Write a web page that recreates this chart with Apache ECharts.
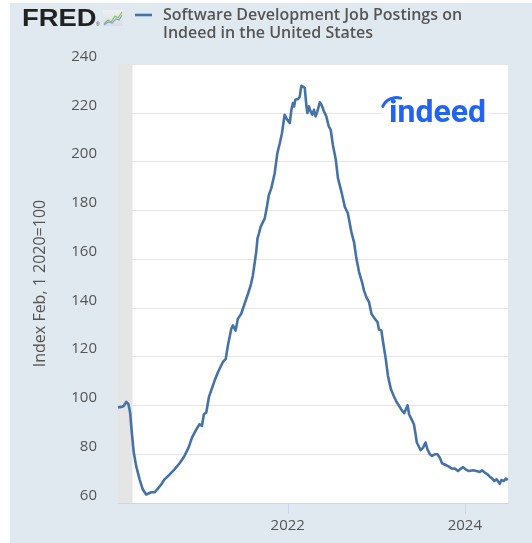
<!DOCTYPE html>
<html>
<head>
<meta charset="utf-8">
<script src="https://cdn.jsdelivr.net/npm/echarts@6/dist/echarts.min.js"></script>
<style>
html,body{margin:0;padding:0;background:#fff;}
#chart{width:532px;height:543px;}
</style>
</head>
<body>
<div id="chart"></div>
<script>
const seriesName = 'Software Development Job Postings on Indeed in the United States';
const titleLines = ['Software Development Job Postings on', 'Indeed in the United States'];
const yAxisName = 'Index Feb, 1 2020=100';
const xTickDates = ['2022-01-01', '2024-01-01'];
const yTicks = {min: 60, max: 240, step: 20};
const recessionStart = '2020-02-01';
const recessionEnd = '2020-04-01';

const dates = [
'2020-02-01','2020-02-14','2020-02-25','2020-03-06','2020-03-15','2020-03-22','2020-03-29','2020-04-06','2020-04-16','2020-04-30',
'2020-05-13','2020-05-27','2020-06-03','2020-06-17','2020-07-01','2020-07-12','2020-07-28','2020-08-11','2020-09-01','2020-09-21',
'2020-10-12','2020-11-01','2020-11-18','2020-12-02','2020-12-20','2021-01-02','2021-01-12','2021-01-20','2021-01-30','2021-02-10',
'2021-03-05','2021-03-19','2021-04-09','2021-04-20','2021-04-29','2021-05-13','2021-05-20','2021-05-31','2021-06-09','2021-06-23',
'2021-07-07','2021-07-21','2021-08-01','2021-08-10','2021-08-17','2021-08-24','2021-08-29','2021-09-04','2021-09-11','2021-09-18',
'2021-09-28','2021-10-07','2021-10-15','2021-10-25','2021-11-08','2021-11-19','2021-11-29','2021-12-08','2021-12-19','2021-12-26',
'2022-01-02','2022-01-09','2022-01-16','2022-01-22','2022-01-27','2022-02-01','2022-02-12','2022-02-19','2022-02-26','2022-03-05',
'2022-03-12','2022-03-19','2022-03-23','2022-03-29','2022-04-05','2022-04-12','2022-04-19','2022-04-26','2022-05-03','2022-05-13',
'2022-05-20','2022-05-30','2022-06-09','2022-06-19','2022-06-27','2022-07-06','2022-07-18','2022-07-27','2022-08-10','2022-08-24',
'2022-09-06','2022-09-20','2022-10-01','2022-10-11','2022-10-22','2022-11-03','2022-11-11','2022-11-21','2022-12-02','2022-12-12',
'2022-12-26','2023-01-06','2023-01-12','2023-01-22','2023-01-29','2023-02-09','2023-02-18','2023-03-02','2023-03-14','2023-03-25',
'2023-04-01','2023-04-15','2023-04-26','2023-05-03','2023-05-10','2023-05-16','2023-05-26','2023-06-05','2023-06-12','2023-06-17',
'2023-06-25','2023-07-03','2023-07-13','2023-07-23','2023-07-31','2023-08-10','2023-08-19','2023-08-30','2023-09-10','2023-09-20',
'2023-09-29','2023-10-10','2023-10-24','2023-11-07','2023-11-21','2023-12-04','2023-12-16','2023-12-25','2024-01-04','2024-01-12',
'2024-01-18','2024-01-26','2024-02-04','2024-02-18','2024-03-03','2024-03-12','2024-03-24','2024-04-04','2024-04-13','2024-04-23',
'2024-05-01','2024-05-11','2024-05-17','2024-05-24','2024-05-31','2024-06-10','2024-06-18','2024-06-26'
];
const values = [
99.2,99.4,99.8,101.5,100.5,97.1,88.9,80.7,75.1,69.7,
65.6,63.5,63.5,64.4,64.4,65.6,67.6,69.7,71.7,73.8,
76.3,79.3,82.7,86.8,90.2,92.3,91.6,96.4,97.1,103.5,
110.1,113.6,117.9,119.0,124.5,131.4,132.8,130.7,135.5,137.6,
141.7,145.8,149.2,153.3,158.1,163.0,168.4,170.5,173.2,172.6,
176.7,181.5,186.3,189.0,195.2,203.4,207.5,211.6,219.2,217.8,
217.1,215.8,221.2,224.0,222.6,225.3,225.6,226.5,231.1,230.9,
230.2,222.6,219.9,222.6,220.6,219.2,221.2,218.5,220.6,224.3,
223.3,220.6,218.5,214.4,213.0,206.8,200.7,193.1,187.7,181.5,
178.7,171.2,167.1,160.2,154.7,150.6,147.2,144.4,142.4,137.6,
135.5,134.2,131.1,130.7,125.9,119.1,112.2,106.7,103.9,101.5,
100.5,98.2,96.8,97.4,100.1,96.4,94.4,92.3,88.2,84.8,
84.1,81.7,82.7,84.8,82.0,80.0,79.3,80.0,80.0,78.6,
76.3,75.8,75.1,74.2,74.1,73.1,74.1,74.7,73.8,74.2,
73.1,73.8,73.4,73.1,72.7,73.4,72.4,71.7,70.8,70.0,
69.0,69.7,70.0,67.9,69.4,69.0,70.0,69.4
];

const lineColor = '#4572a7';
const textColor = '#555555';
const font = '"Open Sans", "Noto Sans", sans-serif';

function ts(s){ const p = s.split('-').map(Number); return +new Date(p[0], p[1]-1, p[2]); }

const chart = echarts.init(document.getElementById('chart'), null, {renderer: 'canvas'});
chart.setOption({
  backgroundColor: '#e1e9f0',
  animation: false,
  grid: {left: 118, right: 24, top: 64, bottom: 40, show: true, backgroundColor: '#ffffff', borderWidth: 0},
  xAxis: {
    type: 'value',
    min: ts('2020-02-01'),
    max: ts('2024-06-27'),
    axisLine: {lineStyle: {color: '#ccd6eb', width: 1}},
    axisTick: {show: true, length: 11, lineStyle: {color: '#ccd6eb'}, customValues: xTickDates.map(ts)},
    axisLabel: {
      customValues: xTickDates.map(ts),
      color: textColor, fontSize: 15, fontFamily: font, margin: 15,
      formatter: function(v){ return String(new Date(v).getFullYear()); }
    },
    splitLine: {show: false}
  },
  yAxis: {
    type: 'value',
    min: yTicks.min, max: yTicks.max, interval: yTicks.step,
    name: yAxisName, nameLocation: 'middle', nameGap: 70, nameRotate: 90,
    nameTextStyle: {color: textColor, fontSize: 16, fontFamily: font},
    axisLine: {show: false}, axisTick: {show: false},
    axisLabel: {color: textColor, fontSize: 15, fontFamily: font, margin: 21, verticalAlign: 'bottom'},
    splitLine: {lineStyle: {color: '#e6e6e6', width: 1}}
  },
  series: [{
    name: seriesName,
    type: 'line',
    data: dates.map((d, i) => [ts(d), values[i]]),
    showSymbol: false,
    lineStyle: {color: lineColor, width: 2.6, join: 'round'},
    itemStyle: {color: lineColor},
    z: 5,
    markArea: {
      silent: true,
      itemStyle: {color: '#e5e5e5', opacity: 1},
      data: [[{xAxis: ts(recessionStart)}, {xAxis: ts(recessionEnd)}]]
    }
  }],
  graphic: [
    {type: 'rect', shape: {x: 0, y: 0, width: 10, height: 543}, style: {fill: '#ffffff'}, silent: true},
    {type: 'rect', shape: {x: 0, y: 0, width: 532, height: 3}, style: {fill: '#ffffff'}, silent: true},
    {type: 'text', x: 22, y: 7, scaleX: 1.14, style: {text: 'FRED', font: '900 24px "Liberation Sans", Arial, sans-serif', fill: '#222222'}},
    {type: 'text', x: 96, y: 22, style: {text: '®', font: '5px "Liberation Sans", sans-serif', fill: '#444'}},
    {type: 'rect', shape: {x: 103, y: 10, width: 20, height: 16}, style: {fill: new echarts.graphic.LinearGradient(0,0,0,1,[{offset:0,color:'#eef0f2'},{offset:1,color:'#d9dde1'}])}},
    {type: 'polyline', shape: {points: [[104,24],[108,20],[111,22],[115,16],[118,18],[122,12]]}, style: {stroke: '#8cbf4f', lineWidth: 1.2, fill: null}},
    {type: 'polyline', shape: {points: [[104,25],[108,22],[112,23],[116,19],[119,20],[122,15]]}, style: {stroke: '#7ea6d3', lineWidth: 1.2, fill: null}},
    {type: 'line', shape: {x1: 135, y1: 15, x2: 152, y2: 15}, style: {stroke: lineColor, lineWidth: 2.6}},
    {type: 'text', x: 163, y: 6, style: {text: titleLines.join('\n'), font: '600 16px "Open Sans", sans-serif', lineHeight: 18.5, fill: textColor}},
    {type: 'rect', shape: {x: 383, y: 95, width: 106, height: 33}, style: {fill: '#ffffff'}, z: 10},
    {type: 'text', x: 389, y: 98, z: 11, style: {text: 'indeed', font: 'bold 32px Roboto, "Noto Sans", sans-serif', fill: '#2164f3'}},
    {type: 'arc', z: 11, shape: {cx: 396.5, cy: 112.5, r: 15, startAngle: -2.72, endAngle: -1.29, clockwise: true}, style: {stroke: '#2164f3', lineWidth: 3, fill: null, lineCap: 'round'}}
  ]
});
</script>
</body>
</html>
